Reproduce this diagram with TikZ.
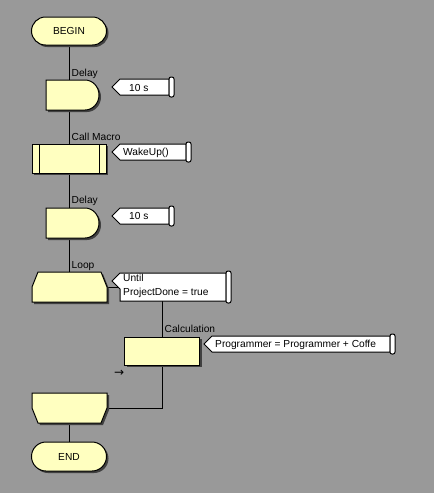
\documentclass[tikz,border=0pt]{standalone}
\usepackage{fontspec}
\setmainfont{Liberation Sans}
\newfontfamily\arrowfont{DejaVu Sans}
\pgfdeclarelayer{back}
\pgfdeclarelayer{lines}
\pgfdeclarelayer{shapes}
\pgfsetlayers{back,lines,shapes,main}
\definecolor{bggray}{RGB}{153,153,153}
\definecolor{fy}{RGB}{255,255,192}
\definecolor{shd}{RGB}{64,64,64}
\newcommand\shp[2]{\fill[shd,shift={(2,2)},#1] #2; \filldraw[fill=fy,draw=black,line width=1pt,#1] #2;}
\begin{document}
\begin{tikzpicture}[x=1pt,y=-1pt,
  txt/.style={font=\fontsize{10.2}{12}\selectfont, text=black},
  hit/.style={txt, inner sep=0pt, outer sep=0pt},
  lbl/.style={txt, anchor=base west, inner sep=0pt},
  conn/.style={draw=black, line width=1pt},
  cbox/.style={fill=white, draw=black, line width=1pt},
  scroll/.style={fill=white, draw=black, line width=1pt, rounded corners=2pt}]
\useasboundingbox (0,0) rectangle (434,493);
\begin{pgfonlayer}{back}
\fill[bggray] (0,0) rectangle (434,493);
\end{pgfonlayer}

% named nodes
\node[hit, minimum width=75, minimum height=28] (begin) at (69,31) {BEGIN};
\node[hit, minimum width=53, minimum height=30] (delayA) at (72.5,95) {};
\node[hit, minimum width=74, minimum height=29] (macro) at (69,158.5) {};
\node[hit, minimum width=53, minimum height=30] (delayB) at (72.5,223) {};
\node[hit, minimum width=75, minimum height=30] (loopA) at (69.5,287) {};
\node[hit, minimum width=75, minimum height=28] (calc) at (162,351) {};
\node[hit, minimum width=75, minimum height=30] (loopB) at (69.5,408) {};
\node[hit, minimum width=75, minimum height=29] (endn) at (69,456.5) {END};
\coordinate (spine) at (69,0);

% connectors
\begin{pgfonlayer}{lines}
\draw[conn] (begin.south) -- (spine |- delayA.north);
\draw[conn] (spine |- delayA.south) -- (macro.north);
\draw[conn] (macro.south) -- (spine |- delayB.north);
\draw[conn] (spine |- delayB.south) -- (spine |- loopA.north);
\draw[conn] (loopA.east) -| (calc.north);
\draw[conn] (calc.south) |- (loopB.east);
\draw[conn] (spine |- loopB.south) -- (endn.north);
\end{pgfonlayer}

% shapes
\begin{pgfonlayer}{shapes}
\shp{rounded corners=14pt}{(31.5,17) rectangle (106.5,45)}
\shp{}{(46,80) -- (85,80) arc[start angle=-90,end angle=90,x radius=14,y radius=15] -- (46,110) -- cycle}
\shp{}{(32,144) rectangle (106,173)}
\draw[line width=1pt] (39,144) -- (39,173) (99,144) -- (99,173);
\shp{}{(46,208) -- (85,208) arc[start angle=-90,end angle=90,x radius=14,y radius=15] -- (46,238) -- cycle}
\shp{}{(38,272) -- (101,272) -- (107,287) -- (107,302) -- (32,302) -- (32,287) -- cycle}
\shp{}{(124.5,337) rectangle (199.5,365)}
\shp{}{(32,393) -- (107,393) -- (107,408) -- (101,423) -- (38,423) -- (32,408) -- cycle}
\shp{rounded corners=14.5pt}{(31.5,442) rectangle (106.5,471)}

% callouts
\draw[cbox] (120,79) -- (169,79) -- (169,95) -- (120,95) -- (112,87) -- cycle;
\draw[scroll] (169,77) rectangle (174,97);
\draw[cbox] (120,144) -- (186,144) -- (186,160) -- (120,160) -- (112,152) -- cycle;
\draw[scroll] (186,142) rectangle (191,162);
\draw[cbox] (120,208) -- (169,208) -- (169,224) -- (120,224) -- (112,216) -- cycle;
\draw[scroll] (169,206) rectangle (174,226);
\draw[cbox] (120,273) -- (226,273) -- (226,301) -- (120,301) -- (120,289) -- (112,281) -- cycle;
\draw[scroll] (226,271) rectangle (231,303);
\draw[cbox] (212,336) -- (390,336) -- (390,352) -- (212,352) -- (204,344) -- cycle;
\draw[scroll] (390,334) rectangle (395,354);
\end{pgfonlayer}

% texts
\node[lbl] (t1) at (129,91) {10 s};
\node[lbl] (t2) at (123,155.5) {WakeUp()};
\node[lbl] (t3) at (129,219.5) {10 s};
\node[lbl] (t4a) at (123,281.5) {Until};
\node[lbl] (t4b) at (123,295.5) {ProjectDone = true};
\node[lbl] (t5) at (215,347.5) {Programmer = Programmer + Coffe};
\node[lbl] (lA) at (71.5,76) {Delay};
\node[lbl] (lB) at (71.5,140) {Call Macro};
\node[lbl] (lC) at (71.5,203) {Delay};
\node[lbl] (lD) at (71.5,268) {Loop};
\node[lbl] (lE) at (164.5,332) {Calculation};
\node[inner sep=0pt, anchor=west] (arr) at (114,373) {\arrowfont\fontsize{12}{12}\selectfont →};
\end{tikzpicture}
\end{document}
